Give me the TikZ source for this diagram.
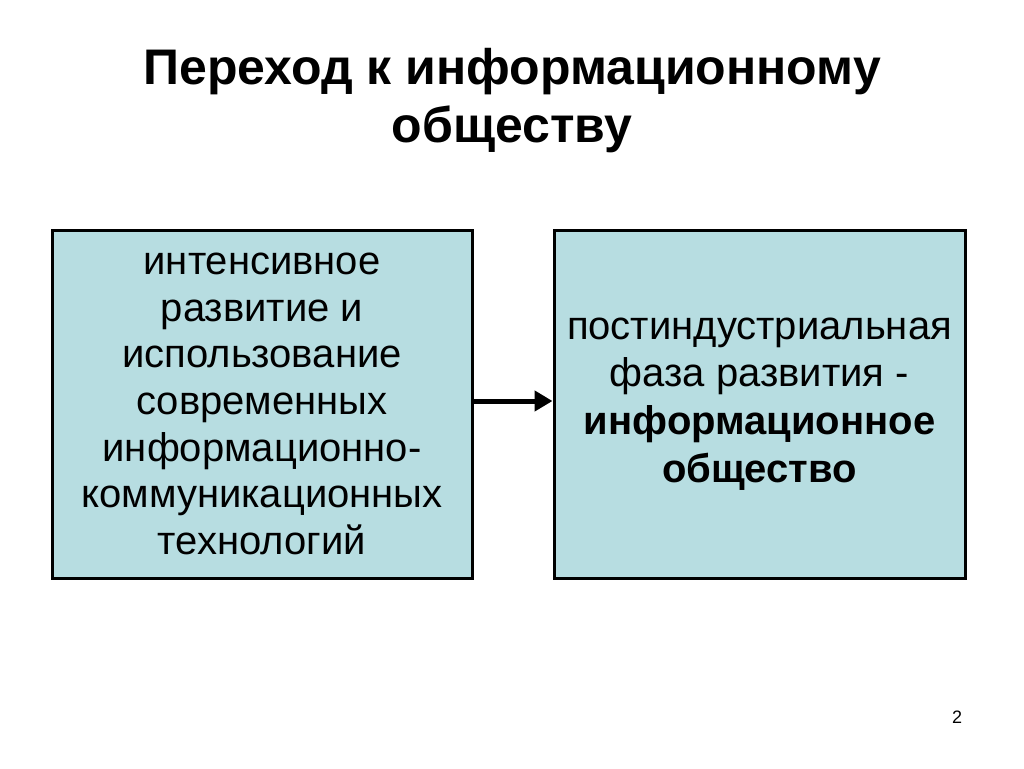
\documentclass[tikz,border=0pt]{standalone}
\usepackage{fontspec}
\setmainfont{Liberation Sans}
\usetikzlibrary{arrows.meta}
\definecolor{boxblue}{RGB}{183,221,225}

\begin{document}
\begin{tikzpicture}[x=1pt,y=-1pt]
\useasboundingbox[fill=white] (0,0) rectangle (1024,768);

\node (v0) at (512,101) [align=center,font=\fontsize{50}{58}\selectfont\bfseries] {Переход к информационному\\обществу};
\node (v1) at (262,404) [draw,line width=3pt,fill=boxblue,minimum width=420pt,minimum height=348pt,align=center,font=\fontsize{40}{46.7}\selectfont] {интенсивное\\развитие и\\использование\\современных\\информационно-\\коммуникационных\\технологий};
\node (v2) at (759.5,404) [draw,line width=3pt,fill=boxblue,minimum width=411pt,minimum height=348pt,align=center,font=\fontsize{40}{47.7}\selectfont] {постиндустриальная\\фаза развития -\\\textbf{информационное}\\\textbf{общество}};
\node (v3) at (957,717) [font=\fontsize{18}{20}\selectfont] {2};
\draw [line width=5pt, -{Triangle[length=18pt,width=20pt]}] ([yshift=3pt]v1.east) -- ([yshift=3pt]v2.west);
\end{tikzpicture}
\end{document}
